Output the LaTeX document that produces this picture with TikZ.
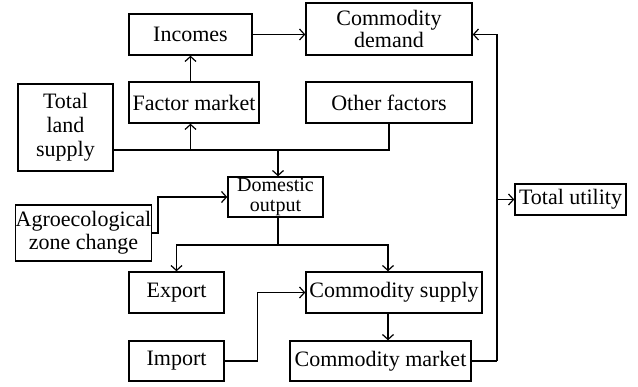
\documentclass[tikz,border=0pt]{standalone}
\usepackage{fontspec}
\setmainfont{Liberation Serif}
\usetikzlibrary{arrows.meta}
\begin{document}
\begin{tikzpicture}[x=1pt,y=-1pt,
  box/.style={draw,line width=1.4pt,inner sep=0pt,align=center,font=\fontsize{22}{23}\selectfont},
  conn/.style={line width=1.4pt},
  arr/.style={conn,-{Straight Barb[length=5pt,width=11pt,line width=1.2pt]}}]
\useasboundingbox (0,0) rectangle (638,387);
\node[box,minimum width=123pt,minimum height=41pt] (inc) at (190.5,34.5) {Incomes};
\node[box,minimum width=166pt,minimum height=52pt] (dem) at (389,29) {Commodity\\[-1pt]demand};
\node[box,minimum width=130pt,minimum height=41pt] (fac) at (194,102.5) {Factor market};
\node[box,minimum width=166pt,minimum height=41pt] (oth) at (389,102.5) {Other factors};
\node[box,minimum width=95pt,minimum height=87pt,font=\fontsize{22}{24}\selectfont] (land) at (65.5,127.5) {Total\\land\\supply};
\node[box,minimum width=95pt,minimum height=40pt,font=\fontsize{20}{19.5}\selectfont] (dom) at (275.5,197) {Domestic\\output};
\node[box,minimum width=135pt,minimum height=56pt] (agro) at (83.5,233) {Agroecological\\zone change};
\node[box,minimum width=95pt,minimum height=41pt] (exp) at (176.5,292.5) {Export};
\node[box,minimum width=176pt,minimum height=41pt] (sup) at (394,292.5) {Commodity supply};
\node[box,minimum width=95pt,minimum height=40pt] (imp) at (176.5,361) {Import};
\node[box,minimum width=181pt,minimum height=40pt] (mkt) at (380.5,361) {Commodity market};
\node[box,minimum width=111pt,minimum height=31pt] (util) at (570.5,199.5) {Total utility};
\coordinate (j) at (278,150);
\coordinate (k) at (278,245);
\coordinate (c) at (388,245);
\coordinate (v) at (497,361);
% connectors
\draw[arr] (inc.east) -- (inc.east -| dem.west);
\draw[arr] (inc.south |- fac.north) -- (inc.south);
\draw[conn] (land.east |- j) -- (j);
\draw[conn] (oth.south) |- (j);
\draw[arr] (inc.south |- j) -- (inc.south |- fac.south);
\draw[arr] (j) -- (j |- dom.north);
\draw[arr] (agro.east) -- ++(6,0) |- (dom.west);
\draw[conn] (k |- dom.south) -- (k);
\draw[arr] (k) -| (exp.north);
\draw[arr] (k) -| (c |- sup.north);
\draw[arr] (imp.east) -- ++(33,0) |- (sup.west);
\draw[arr] (c |- sup.south) -- (c |- mkt.north);
\draw[conn] (mkt.east) -- (v);
\draw[arr] (v) |- (inc.east -| dem.east);
\draw[arr] (v |- util.west) -- (util.west);
\end{tikzpicture}
\end{document}
